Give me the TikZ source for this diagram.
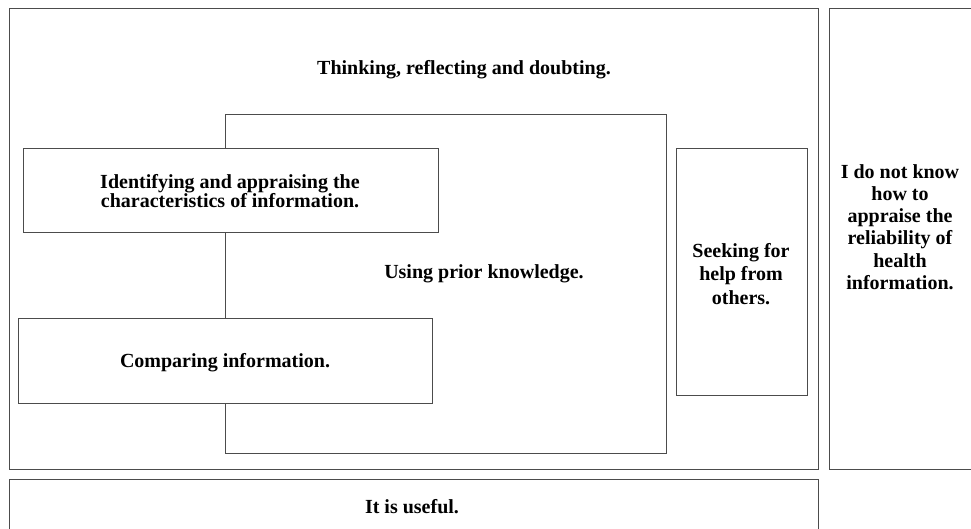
\documentclass[tikz,border=0pt]{standalone}
\usepackage{fontspec}
\setmainfont{Liberation Serif}
\begin{document}
\begin{tikzpicture}[x=1pt,y=-1pt,
  box/.style={draw=black!70, line width=1pt, fill=white, inner sep=0pt, outer sep=0pt, anchor=north west},
  lbl/.style={font=\fontsize{20}{22}\selectfont\bfseries, align=center, inner sep=0pt}]
\clip (0,0) rectangle (971,529);
\fill[white] (0,0) rectangle (971,529);
\node[box, minimum width=809pt, minimum height=460pt] (outer) at (9,9) {};
\node[box, minimum width=152pt, minimum height=460pt] (right) at (829,9) {};
\node[box, minimum width=809pt, minimum height=80pt] (bottom) at (9,479) {};
\node[box, minimum width=441pt, minimum height=338pt] (using) at (225,115) {};
\node[box, minimum width=415pt, minimum height=84pt] (ident) at (23,149) {};
\node[box, minimum width=414pt, minimum height=85pt] (comp) at (18,318) {};
\node[box, minimum width=131pt, minimum height=246pt] (seek) at (676,149) {};
\node[lbl] (t1) at (464,70) {Thinking, reflecting and doubting.};
\node[lbl, font=\fontsize{20}{19.5}\selectfont\bfseries] (t2) at (230,191) {Identifying and appraising the\\characteristics of information.};
\node[lbl] (t3) at (484,274) {Using prior knowledge.};
\node[lbl] (t4) at (225,363) {Comparing information.};
\node[lbl, font=\fontsize{20}{23.5}\selectfont\bfseries] (t5) at (741,274) {Seeking for\\help from\\others.};
\node[lbl, font=\fontsize{20}{22.3}\selectfont\bfseries] (t6) at (900,227) {I do not know\\how to\\appraise the\\reliability of\\health\\information.};
\node[lbl] (t7) at (412,507) {It is useful.};
\end{tikzpicture}
\end{document}
